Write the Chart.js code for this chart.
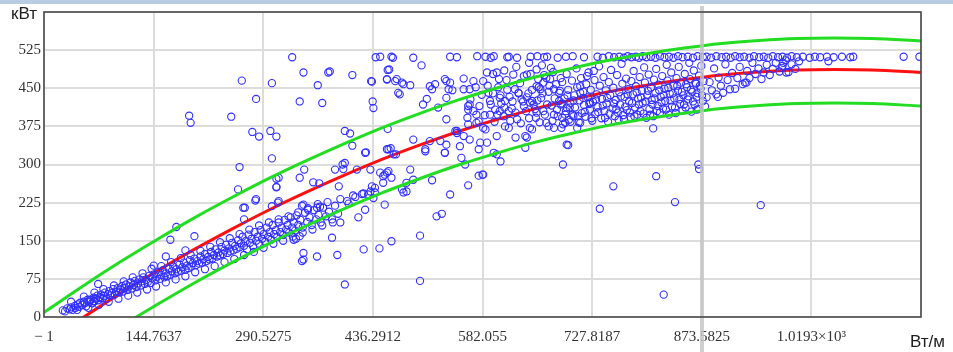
<!DOCTYPE html>
<html>
<head>
<meta charset="utf-8">
<script src="https://cdn.jsdelivr.net/npm/chart.js@4/dist/chart.umd.min.js"></script>
<style>
  html, body { margin: 0; padding: 0; background: #fff; }
  canvas { display: block; }
</style>
</head>
<body>
<canvas id="c" width="953" height="352"></canvas>
<script>
// Axis ticks (Вт/м on x, кВт on y)
const xTickValues = [-1, 144.7637, 290.5275, 436.2912, 582.055, 727.8187, 873.5825, 1019.346, 1165.11];
const xTickLabels = ['\u2212 1', '144.7637', '290.5275', '436.2912', '582.055', '727.8187', '873.5825', '1.0193\u00d710\u00b3', ''];
const yTickValues = [0, 75, 150, 225, 300, 375, 450, 525, 600];
const yTickLabels = ['0', '75', '150', '225', '300', '375', '450', '525', ''];
const cursorX = 873.5825;

// Regression curve and its band
const fitX     = [-1, 50, 100, 150, 200, 250, 300, 350, 400, 450, 500, 550, 600, 650, 700, 750, 800, 850, 900, 950, 1000, 1050, 1100, 1165];
const fitMid   = [-53, -2, 46, 91, 134, 174, 212, 247, 280, 311, 339, 365, 388, 409, 427, 443, 456, 467, 476, 482, 486, 487, 486, 481];
const fitUpper = [9, 60, 108, 153, 196, 236, 274, 309, 342, 373, 401, 427, 450, 471, 489, 505, 518, 529, 538, 544, 548, 549, 548, 543];
const fitLower = [-119, -68, -20, 25, 68, 108, 146, 181, 214, 245, 273, 299, 322, 343, 361, 377, 390, 401, 410, 416, 420, 421, 420, 415];

// Measurements: low-power band
const lowBand = [
  [24,13],[27,11],[30,17],[33,15],[35,19],[37,14],[40,22],[41,18],[44,25],[46,20],[47,28],[50,24],[52,30],[53,27],[55,21],
  [57,34],[59,29],[61,33],[63,27],[65,38],[66,31],[68,36],[70,42],[71,33],[73,39],[75,44],[77,37],[79,41],[80,48],[82,36],
  [84,45],[86,51],[87,42],[89,47],[91,55],[93,44],[95,50],[97,57],[99,48],[101,54],[103,61],[104,50],[106,57],[108,64],[110,53],
  [112,60],[114,68],[116,56],[118,63],[120,71],[122,59],[124,66],[126,74],[128,62],[129,70],[131,78],[133,65],[135,73],[137,69],
  [139,81],[141,67],[143,76],[145,84],[147,72],[149,79],[151,88],[153,75],[155,83],[157,92],[159,78],[161,86],[163,80],[165,95],
  [167,83],[169,90],[171,99],[173,86],[175,94],[177,89],[179,103],[181,91],[183,98],[185,107],[187,93],[189,101],[191,96],[193,112],
  [195,99],[197,106],[199,115],[201,102],[203,110],[205,105],[207,119],[209,107],[211,114],[213,124],[215,110],[217,118],[219,113],
  [221,128],[223,115],[225,122],[227,133],[229,119],[231,127],[233,121],[235,138],[237,124],[239,131],[241,142],[243,126],[245,135],
  [247,129],[249,146],[251,131],[253,140],[255,134],[257,151],[259,137],[261,145],[263,158],[265,140],[267,149],[269,133],[271,162],
  [273,146],[275,154],[277,139],[279,167],[281,150],[283,158],[285,144],[287,171],[289,154],[291,163],[293,148],[295,176],[297,158],
  [299,167],[301,152],[303,181],[305,163],[307,171],[309,157],[311,186],[313,167],[315,176],[317,161],[319,191],[321,172],[323,181],
  [325,166],[327,196],[329,176],[331,186],[333,170],[335,200],[337,181],[340,191],[343,176],[346,205],[349,187],[352,196],[355,181],
  [358,210],[361,192],[364,201],[367,186],[370,215],[374,198],[378,207],[382,192],[386,219],[390,203]
];

// Measurements: outer edges of the low-power band
const lowBandEdges = [
  [35,30],[43,14],[52,40],[58,18],[66,48],[72,24],[78,55],[85,30],[92,62],[98,36],[105,70],[111,42],[117,78],[123,48],[130,86],
  [136,54],[142,95],[148,60],[155,100],[161,68],[168,108],[174,74],[181,116],[187,80],[194,122],[200,88],[207,130],[213,94],
  [220,138],[226,100],[233,147],[239,108],[246,155],[252,114],[259,163],[265,122],[272,172],[278,128],[285,180],[291,136],
  [298,186],[304,144],[311,192],[317,150],[324,198],[330,158],[337,206],[343,166],[350,214],[356,172],[363,222],[369,180],
  [376,226],[383,186]
];

// Measurements: scattered mid-range readings
const midScatter = [
  [192,396],[194,382],[248,394],[262,465],[281,429],[302,460],[344,481],[377,481],[379,483],[363,456],[339,424],[369,421],[409,476],
  [435,463],[455,467],[456,486],[436,424],[437,411],[276,364],[285,355],[300,366],[308,355],[259,295],[302,312],[257,251],[399,366],
  [406,361],[409,337],[427,324],[386,290],[397,291],[396,300],[415,290],[345,290],[339,274],[311,274],[308,255],[357,265],[365,263],
  [391,257],[433,290],[455,330],[456,370],[446,284],[450,277],[457,287],[450,264],[435,257],[439,254],[424,243],[410,239],[430,241],
  [281,232],[426,323],[464,320],[506,326],[532,323],[486,290],[455,284],[461,274],[433,247],[439,245],[264,215],[265,192],[311,228],
  [302,218],[342,219],[350,211],[362,215],[366,217],[393,232],[402,228],[404,223],[413,236],[422,242],[437,234],[452,221],[426,211],
  [417,196],[393,186],[382,156],[334,154],[344,126],[342,110],[362,119],[389,122],[424,133],[445,135],[461,149],[399,64],[499,160],
  [499,71],[521,198],[528,203],[539,241],[515,269],[481,247],[477,245],[475,251],[481,264],[559,300],[563,259],[577,278],
  [501,495],[458,487],[455,468],[466,464],[475,461],[470,441],[486,456],[477,458],[503,418],[508,429],[515,448],[512,454],[519,458],
  [532,468],[534,464],[539,461],[537,448],[542,446],[534,431],[557,469],[523,412],[534,389],[546,366],[565,448],[570,464],[565,418],
  [563,415],[583,464],[588,481],[601,481],[604,468],[590,441],[605,431],[592,425],[599,408],[612,425],[617,405],[605,405],[574,398],
  [577,385],[583,372],[586,369],[574,382],[563,408],[563,379],[557,356],[548,366],[592,398],[612,375],[617,372],[626,353],[639,356],
  [623,477],[637,474],[641,477],[654,487],[663,461],[672,468],[677,448],[630,441],[634,428],[645,422],[648,425],[654,454],[659,448],
  [654,402],[667,382],[670,375],[677,372],[648,369],[641,353],[639,333],[579,343],[588,343],[577,330],[554,313],[601,320],[583,280],
  [506,330],[526,346],[534,339],[552,336],[565,349],[490,349],[512,346],[490,270],[457,330],[688,392],[694,412],[703,395],[712,382],
  [692,382],[708,372],[696,338],[689,300],[712,454],[721,474],[730,484],[716,431],[725,422],[756,257],
  [434,464],[468,468],[472,438],[460,332],[467,320],[399,303],[452,280],[548,362],[557,448],[532,323],[606,306],[597,323],[601,356],
  [645,372],[694,339],[738,213],[582,280],[813,277],[870,291],[869,300],[838,226],[952,220],[823,44],[809,371],[867,408],
  [71,65],[60,34],[65,31],[74,37],[145,101],[161,119],[167,152],[175,177],[187,131],[199,159],[280,229],[266,215],[308,272],
  [308,256],[310,225],[344,221],[339,159],[331,152],[344,113]
];

// Measurements: dense high-power cluster
const clusterCore = [
  [682,395],[684,441],[686,418],[688,462],[689,379],[691,430],[693,405],[694,478],[696,447],[697,388],[699,421],[701,465],[702,398],
  [704,436],[705,412],[707,489],[708,452],[710,383],[711,426],[713,470],[714,401],[716,443],[717,417],[719,394],[720,458],[722,432],
  [723,481],[725,408],[726,447],[728,386],[729,423],[731,466],[732,399],[734,438],[735,414],[737,493],[738,455],[740,391],[741,429],
  [743,472],[744,405],[746,446],[747,420],[749,384],[750,462],[752,436],[753,486],[755,410],[756,451],[758,395],[759,427],[761,476],
  [762,402],[764,442],[765,418],[767,498],[768,459],[770,389],[771,433],[773,469],[774,407],[776,448],[777,424],[779,393],[780,464],
  [782,438],[783,484],[785,412],[786,454],[788,398],[789,430],[791,472],[792,405],[794,445],[795,421],[797,491],[798,461],[800,392],
  [801,436],[803,477],[804,409],[806,451],[807,427],[809,395],[810,467],[812,441],[813,488],[815,415],[816,457],[818,402],[819,433],
  [821,474],[822,410],[824,449],[825,425],[827,496],[828,465],[830,398],[831,439],[833,481],[834,414],[836,455],[837,430],[839,401],
  [840,470],[842,445],[843,492],[845,419],[846,461],[848,406],[849,436],[851,478],[852,412],[854,452],[855,428],[857,500],[858,468],
  [860,404],[861,443],[863,485],[864,418],[866,459],[867,433],[869,409],[870,475],[872,449],[873,494],[875,425],[876,464],[878,414],
  [698,412],[703,426],[709,395],[712,441],[718,404],[724,419],[727,391],[733,428],[736,403],[742,416],[745,392],[748,431],[751,400],
  [757,420],[760,409],[763,388],[766,434],[769,397],[772,414],[775,438],[778,402],[781,421],[784,395],[787,442],[790,418],[793,432],
  [796,400],[799,424],[802,445],[805,398],[808,418],[811,430],[814,405],[817,446],[820,422],[823,437],[826,408],[829,451],[832,426],
  [835,440],[838,412],[841,455],[844,428],[847,443],[850,418],[853,458],[856,434],[859,447],[862,424],[865,461],[868,440],[871,455],
  [874,436]
];

// Measurements: lead-in to the cluster
const clusterFill = [
  [562,392],[566,428],[570,405],[573,452],[578,415],[581,437],[585,397],[589,455],[593,418],[596,440],[598,384],[603,452],[607,420],
  [610,395],[614,466],[618,433],[621,410],[625,448],[628,389],[632,460],[636,424],[640,405],[643,440],[646,478],[650,418],[653,392],
  [657,452],[660,431],[663,405],[667,470],[670,443],[674,416],[677,398],[680,458],[684,425],[687,372],[673,490],[661,495],[644,500],
  [627,492],[611,485],[596,478],
  [602,398],[606,436],[611,412],[615,447],[619,386],[622,424],[626,402],[630,440],[633,381],[637,415],[641,432],[644,391],[648,447],
  [652,409],[655,426],[658,383],[662,440],[665,398],[668,418],[671,455],[675,386],[678,430],[681,408],[685,445],[688,420],[692,398],
  [695,436],[699,384],[656,468],[664,476],[676,482],[686,470]
];

// Measurements: beyond 873.6 Вт/м
const rightOfCursor = [
  [880,432],[884,462],[887,446],[890,489],[893,438],[896,471],[899,455],[902,441],[905,497],[908,466],[911,448],[914,480],[918,449],
  [921,470],[924,492],[928,458],[931,461],[934,484],[937,470],[941,500],[945,478],[949,489],[953,468],[956,481],[960,496],[964,476],
  [968,488],[972,500],[977,483],[981,494],[986,481],[989,482],[993,497],[998,488],[1003,503],[980,490],[982,500],[1042,503],[985,505],
  [895,433],[933,461]
];

// Measurements: the saturation row near 512 кВт
const capRow = [
  [329,511],[440,511],[446,512],[461,512],[463,510],[490,510],[539,512],[548,511],[575,513],[586,512],[593,510],[597,513],[615,511],
  [617,512],[628,510],[646,512],[655,513],[664,511],[668,512],[682,510],[693,512],[702,513],[717,511],[735,512],[742,510],[750,513],
  [757,511],[764,512],[770,510],[775,513],[780,511],[786,512],[790,510],[795,513],[800,511],[806,512],[812,510],[818,513],[824,511],
  [830,512],[836,510],[842,513],[848,511],[855,512],[862,510],[868,513],[875,511],[880,512],[886,510],[893,513],[900,511],[906,512],
  [912,510],[918,513],[924,511],[930,512],[937,510],[943,513],[950,511],[956,512],[962,510],[968,513],[975,511],[981,512],[987,510],
  [993,513],[1000,511],[1008,512],[1017,510],[1024,512],[1031,511],[1040,512],[1049,511],[1060,512],[1071,511],[1075,512],
  [1142,512],[1163,512]
];

const toXY = arr => arr.map(p => ({ x: p[0], y: p[1] }));
const curve = ys => fitX.map((x, i) => ({ x: x, y: ys[i] }));

const pointStyle = {
  showLine: false,
  pointStyle: 'circle',
  pointRadius: 3.6,
  pointBorderWidth: 1.1,
  pointBackgroundColor: 'rgba(0,0,0,0)',
  pointBorderColor: '#2f2fff',
  pointHoverRadius: 3.6
};
const lineStyle = (color) => ({
  showLine: true,
  pointRadius: 0,
  borderColor: color,
  borderWidth: 3,
  cubicInterpolationMode: 'monotone',
  fill: false
});

const decor = {
  id: 'decor',
  beforeDraw(chart) {
    const ctx = chart.ctx;
    ctx.save();
    ctx.fillStyle = '#ffffff';
    ctx.fillRect(0, 0, chart.width, chart.height);
    ctx.fillStyle = '#b8cce4';
    ctx.fillRect(0, 0, chart.width, 4);
    ctx.restore();
  },
  afterDatasetsDraw(chart) {
    const ctx = chart.ctx;
    const px = Math.round(chart.scales.x.getPixelForValue(cursorX));
    ctx.save();
    ctx.strokeStyle = 'rgba(196,196,196,0.8)';
    ctx.lineWidth = 4;
    ctx.beginPath();
    ctx.moveTo(px, 6);
    ctx.lineTo(px, chart.height);
    ctx.stroke();
    ctx.restore();
  },
  afterDraw(chart) {
    const ctx = chart.ctx;
    const a = chart.chartArea;
    ctx.save();
    ctx.strokeStyle = '#4a4a4a';
    ctx.lineWidth = 1.6;
    ctx.strokeRect(a.left, a.top, a.right - a.left, a.bottom - a.top);
    ctx.fillStyle = '#1e1e1e';
    ctx.textBaseline = 'alphabetic';
    ctx.textAlign = 'left';
    ctx.font = '17px "Liberation Sans", Arial, sans-serif';
    ctx.fillText('кВт', 11, 19);
    ctx.font = '17px "Liberation Sans", Arial, sans-serif';
    ctx.fillText('Вт/м', 910, 347);
    ctx.restore();
  }
};

new Chart(document.getElementById('c'), {
  type: 'scatter',
  data: {
    datasets: [
      Object.assign({ label: 'upper', data: curve(fitUpper) }, lineStyle('#22dd22')),
      Object.assign({ label: 'lower', data: curve(fitLower) }, lineStyle('#22dd22')),
      Object.assign({ label: 'cap', data: toXY(capRow) }, pointStyle),
      Object.assign({ label: 'core', data: toXY(clusterCore) }, pointStyle),
      Object.assign({ label: 'fill', data: toXY(clusterFill) }, pointStyle),
      Object.assign({ label: 'right', data: toXY(rightOfCursor) }, pointStyle),
      Object.assign({ label: 'mid', data: toXY(midScatter) }, pointStyle),
      Object.assign({ label: 'band', data: toXY(lowBand) }, pointStyle),
      Object.assign({ label: 'bandEdges', data: toXY(lowBandEdges) }, pointStyle),
      Object.assign({ label: 'fit', data: curve(fitMid) }, lineStyle('#ff1010'))
    ]
  },
  options: {
    responsive: false,
    devicePixelRatio: 1,
    animation: false,
    events: [],
    layout: { padding: { left: 0, right: 32, top: 12, bottom: 0 } },
    plugins: { legend: { display: false }, tooltip: { enabled: false } },
    scales: {
      x: {
        type: 'linear',
        min: xTickValues[0],
        max: xTickValues[xTickValues.length - 1],
        afterFit(s) { s.height = 35; },
        afterBuildTicks(s) { s.ticks = xTickValues.map(v => ({ value: v })); },
        border: { display: false },
        grid: { color: '#dcdcdc', lineWidth: 2, drawTicks: false },
        ticks: {
          autoSkip: false,
          maxRotation: 0,
          padding: 11,
          color: '#333333',
          font: { family: '"Liberation Serif", "Times New Roman", serif', size: 15 },
          callback: (v, i) => xTickLabels[i]
        }
      },
      y: {
        type: 'linear',
        min: yTickValues[0],
        max: yTickValues[yTickValues.length - 1],
        afterFit(s) { s.width = 44; },
        afterBuildTicks(s) { s.ticks = yTickValues.map(v => ({ value: v })); },
        border: { display: false },
        grid: { color: '#dcdcdc', lineWidth: 2, drawTicks: false },
        ticks: {
          autoSkip: false,
          padding: 3,
          color: '#333333',
          font: { family: '"Liberation Serif", "Times New Roman", serif', size: 15 },
          callback: (v, i) => yTickLabels[i]
        }
      }
    }
  },
  plugins: [decor]
});
</script>
</body>
</html>
